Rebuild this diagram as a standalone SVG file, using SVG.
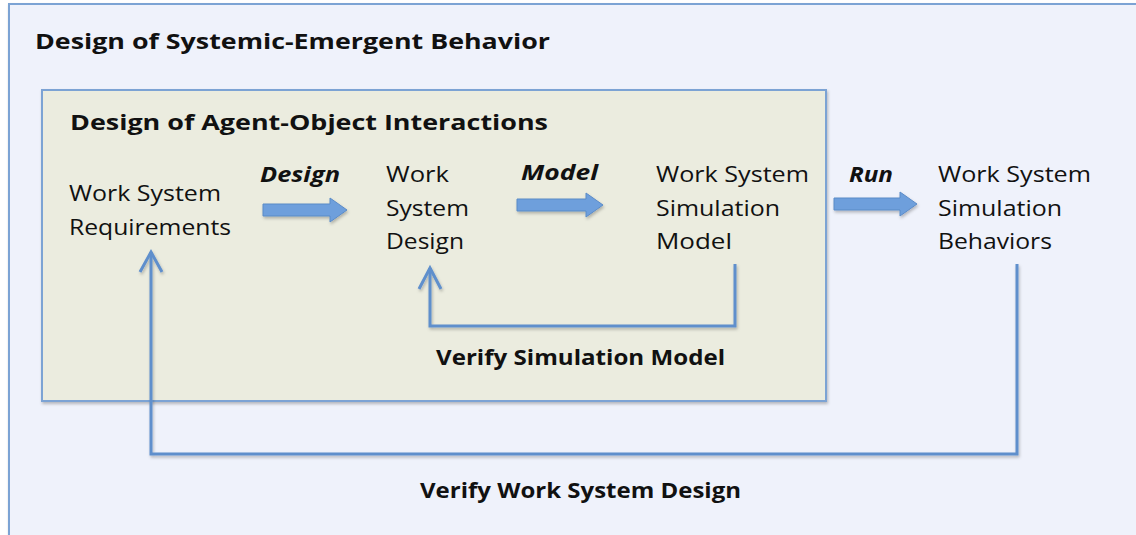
<svg xmlns="http://www.w3.org/2000/svg" width="1136" height="535" viewBox="0 0 1136 535">
<defs>
<style>
.t{font-family:"Open Sans","Liberation Sans",sans-serif;fill:#111;font-size:22px}
.b{font-weight:bold}
.bi{font-weight:bold;font-style:italic}
.ln{fill:none;stroke:#5f8fcc;stroke-width:3;stroke-linejoin:miter}
.blk{fill:#6e9fdc;stroke:#5b8bc7;stroke-width:1}
</style>
<filter id="sh" x="-5%" y="-5%" width="110%" height="110%">
<feDropShadow dx="1" dy="2" stdDeviation="1.5" flood-color="#000" flood-opacity="0.25"/>
</filter>
</defs>
<rect width="1136" height="535" fill="#ffffff"/>
<g id="outer">
<rect x="9" y="4" width="1140" height="545" fill="#eff2fb" stroke="#7ba3d4" stroke-width="2" filter="url(#sh)"/>
<text class="t b" x="35" y="49" font-size="25" textLength="515" lengthAdjust="spacingAndGlyphs">Design of Systemic-Emergent Behavior</text>
</g>
<g id="inner">
<rect x="42" y="90" width="784" height="311" fill="#ebecdf" stroke="#7ba3d4" stroke-width="2" filter="url(#sh)"/>
<text class="t b" x="70" y="130" font-size="25" textLength="478" lengthAdjust="spacingAndGlyphs">Design of Agent-Object Interactions</text>
</g>
<g id="requirements">
<text class="t" x="69" y="201" textLength="152" lengthAdjust="spacingAndGlyphs">Work System</text>
<text class="t" x="69" y="235" textLength="162" lengthAdjust="spacingAndGlyphs">Requirements</text>
</g>
<g id="design">
<text class="t" x="386" y="182" textLength="63" lengthAdjust="spacingAndGlyphs">Work</text>
<text class="t" x="386" y="216" textLength="83" lengthAdjust="spacingAndGlyphs">System</text>
<text class="t" x="386" y="249" textLength="78" lengthAdjust="spacingAndGlyphs">Design</text>
</g>
<g id="model">
<text class="t" x="656" y="182" textLength="153" lengthAdjust="spacingAndGlyphs">Work System</text>
<text class="t" x="656" y="216" textLength="124" lengthAdjust="spacingAndGlyphs">Simulation</text>
<text class="t" x="656" y="249" textLength="76" lengthAdjust="spacingAndGlyphs">Model</text>
</g>
<g id="behaviors">
<text class="t" x="938" y="182" textLength="153" lengthAdjust="spacingAndGlyphs">Work System</text>
<text class="t" x="938" y="216" textLength="124" lengthAdjust="spacingAndGlyphs">Simulation</text>
<text class="t" x="938" y="249" textLength="114" lengthAdjust="spacingAndGlyphs">Behaviors</text>
</g>
<g id="connectors">
<g filter="url(#sh)">
<polygon class="blk" points="263,204 330,204 330,198 347,210 330,222 330,216 263,216"/>
<polygon class="blk" points="517,199 586,199 586,193 603,205 586,217 586,211 517,211"/>
<polygon class="blk" points="834,198 900,198 900,192 917,204 900,216 900,210 834,210"/>
<polyline class="ln" points="735,264 735,326 430,326 430,268"/>
<polyline class="ln" points="419,289 430,268 441,289"/>
<polyline class="ln" points="1017,264 1017,454 151,454 151,252"/>
<polyline class="ln" points="140,272 151,252 162,272"/>
</g>
<text class="t bi" x="260" y="182" textLength="80" lengthAdjust="spacingAndGlyphs">Design</text>
<text class="t bi" x="521" y="180" textLength="77" lengthAdjust="spacingAndGlyphs">Model</text>
<text class="t bi" x="849" y="182" textLength="44" lengthAdjust="spacingAndGlyphs">Run</text>
<text class="t b" x="436" y="365" font-size="23" textLength="289" lengthAdjust="spacingAndGlyphs">Verify Simulation Model</text>
<text class="t b" x="420" y="498" font-size="23" textLength="321" lengthAdjust="spacingAndGlyphs">Verify Work System Design</text>
</g>
</svg>
